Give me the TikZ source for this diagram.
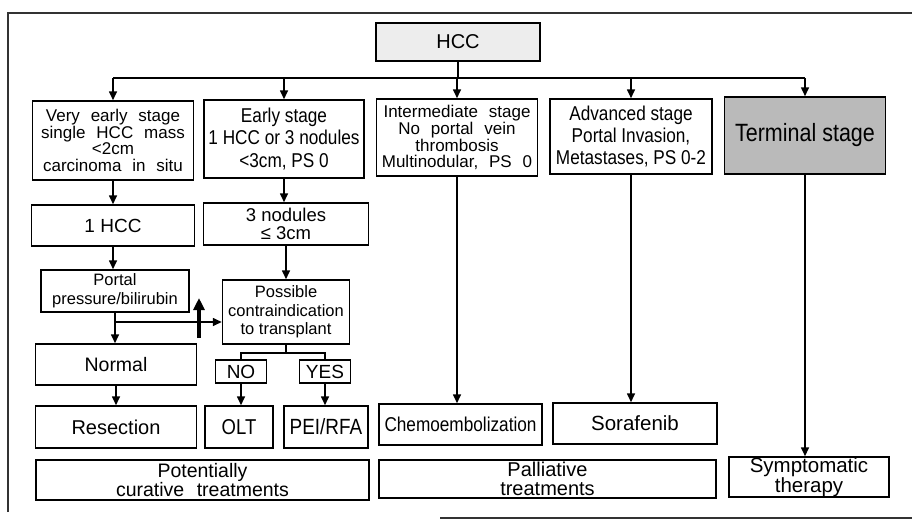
\documentclass[tikz,border=0pt]{standalone}
\usepackage{fontspec}
\setmainfont{Liberation Sans}
\newfontfamily\condfont[FakeStretch=0.86]{Liberation Sans}
\newfontfamily\widefont[WordSpace=1.7]{Liberation Sans}
\newfontfamily\widerfont[WordSpace=2.3]{Liberation Sans}
\usetikzlibrary{arrows.meta}
\newcommand\setfs[2]{\fontsize{#1}{#2}\selectfont}

\tikzset{
  box/.style={draw, line width=1.5pt, inner sep=0pt, align=center, fill=white},
  conn/.style={line width=1.6pt},
  arr/.style={conn, -{Triangle[length=9pt,width=8pt]}},
  frame/.style={line width=1.5pt, black!80},
}

\begin{document}
\begin{tikzpicture}[x=1pt, y=-1pt]
\useasboundingbox (0,0) rectangle (912,520);

% page frame
\draw[frame] (8,512) -- (8,13) -- (912,13);
\draw[frame] (440,518) -- (912,518);

% root
\node[box, fill=black!7, minimum width=164pt, minimum height=38pt,
      font=\setfs{20}{22}] (hcc) at (458,42) {HCC};

% stages
\node[box, minimum width=161pt, minimum height=79pt,
      font=\widefont\setfs{17}{16.5}] (c1) at (113,140.5)
  {Very early stage\\single HCC mass\\<2cm\\carcinoma in situ};
\node[box, minimum width=160pt, minimum height=78pt,
      font=\condfont\setfs{20}{22.5}] (c2) at (284,139)
  {Early stage\\1 HCC or 3 nodules\\<3cm, PS 0};
\node[box, minimum width=161pt, minimum height=77pt,
      font=\widefont\setfs{17}{15.8}] (c3) at (457,137.5)
  {Intermediate stage\\No portal vein\\thrombosis\\Multinodular, PS 0};
\node[box, minimum width=162pt, minimum height=75pt,
      font=\condfont\setfs{20}{22}] (c4) at (631,136.5)
  {Advanced stage\\Portal Invasion,\\Metastases, PS 0-2};
\node[box, fill=black!27, minimum width=161pt, minimum height=77pt,
      font=\condfont\setfs{25}{27}] (c5) at (805,135.5)
  {Terminal stage};

% early branches
\node[box, minimum width=163pt, minimum height=41pt,
      font=\setfs{19}{21}] (hcc1) at (113,225.5) {1 HCC};
\node[box, minimum width=165pt, minimum height=42pt,
      font=\setfs{18.5}{18.5}] (nod3) at (286,224) {3 nodules\\≤ 3cm};
\node[box, minimum width=148pt, minimum height=42pt,
      font=\setfs{16.5}{19}] (portal) at (115,291) {Portal\\pressure/bilirubin};
\node[box, minimum width=127pt, minimum height=64pt,
      font=\setfs{16.5}{18.5}] (poss) at (286,312)
  {Possible\\contraindication\\to transplant};
\node[box, minimum width=161pt, minimum height=41pt,
      font=\setfs{19.5}{21}] (normal) at (116,364.5) {Normal};
\node[box, minimum width=51pt, minimum height=23pt,
      font=\setfs{19}{21}] (no) at (241,371.5) {NO};
\node[box, minimum width=51pt, minimum height=23pt,
      font=\setfs{19}{21}] (yes) at (325,371.5) {YES};

% treatments
\node[box, minimum width=161pt, minimum height=42pt,
      font=\setfs{20}{22}] (res) at (116,427) {Resection};
\node[box, minimum width=68pt, minimum height=42pt,
      font=\condfont\setfs{21.5}{22}] (olt) at (239,427) {OLT};
\node[box, minimum width=84pt, minimum height=42pt,
      font=\condfont\setfs{22}{22}] (pei) at (326,427) {PEI/RFA};
\node[box, minimum width=163pt, minimum height=41pt,
      font=\condfont\setfs{20}{22}] (chemo) at (460.5,424.5) {Chemoembolization};
\node[box, minimum width=164pt, minimum height=41pt,
      font=\setfs{20.5}{22}] (sora) at (635,423.5) {Sorafenib};

% treatment groups
\node[box, minimum width=333pt, minimum height=40pt,
      font=\widerfont\setfs{19.5}{18.5}] (cur) at (202.5,480)
  {Potentially\\curative treatments};
\node[box, minimum width=337pt, minimum height=38pt,
      font=\widerfont\setfs{20}{18.5}] (pal) at (547.5,479)
  {Palliative\\treatments};
\node[box, minimum width=160pt, minimum height=40pt,
      font=\widerfont\setfs{20.5}{18.5}] (sym) at (809,477)
  {Symptomatic\\therapy};

% distribution bus under the root
\coordinate (bus) at (458,78);
\draw[conn] (hcc.south) -- (hcc.south |- bus);
\draw[conn] (c1.north |- bus) -- (c5.north |- bus);
\foreach \n in {c1,c2,c3,c4,c5}
  \draw[arr] (\n.north |- bus) -- (\n.north);

% early-stage flow
\draw[arr] (c1.south) -- (c1.south |- hcc1.north);
\draw[arr] (c2.south) -- (c2.south |- nod3.north);
\draw[arr] (hcc1.south) -- (hcc1.south |- portal.north);
\draw[arr] (nod3.south) -- (nod3.south |- poss.north);
\draw[arr] (portal.south) -- (portal.south |- normal.north);
\coordinate (br) at (115,322);
\draw[arr] (br) -- (br -| poss.west);

% heavy upward arrow
\coordinate (tk0) at (199,338);
\coordinate (tk1) at (199,298);
\draw[line width=4.5pt, -{Triangle[length=12pt,width=11pt]}] (tk0) -- (tk1);

% NO / YES split
\coordinate (ny) at (286,353);
\draw[conn] (poss.south) -- (ny);
\draw[conn] (no.north) |- (ny) -| (yes.north);

% to the treatments
\draw[arr] (normal.south) -- (normal.south |- res.north);
\draw[arr] (no.south) -- (no.south |- olt.north);
\draw[arr] (yes.south) -- (yes.south |- pei.north);
\draw[arr] (c3.south) -- (c3.south |- chemo.north);
\draw[arr] (c4.south) -- (c4.south |- sora.north);
\draw[arr] (c5.south) -- (c5.south |- sym.north);
\end{tikzpicture}
\end{document}
